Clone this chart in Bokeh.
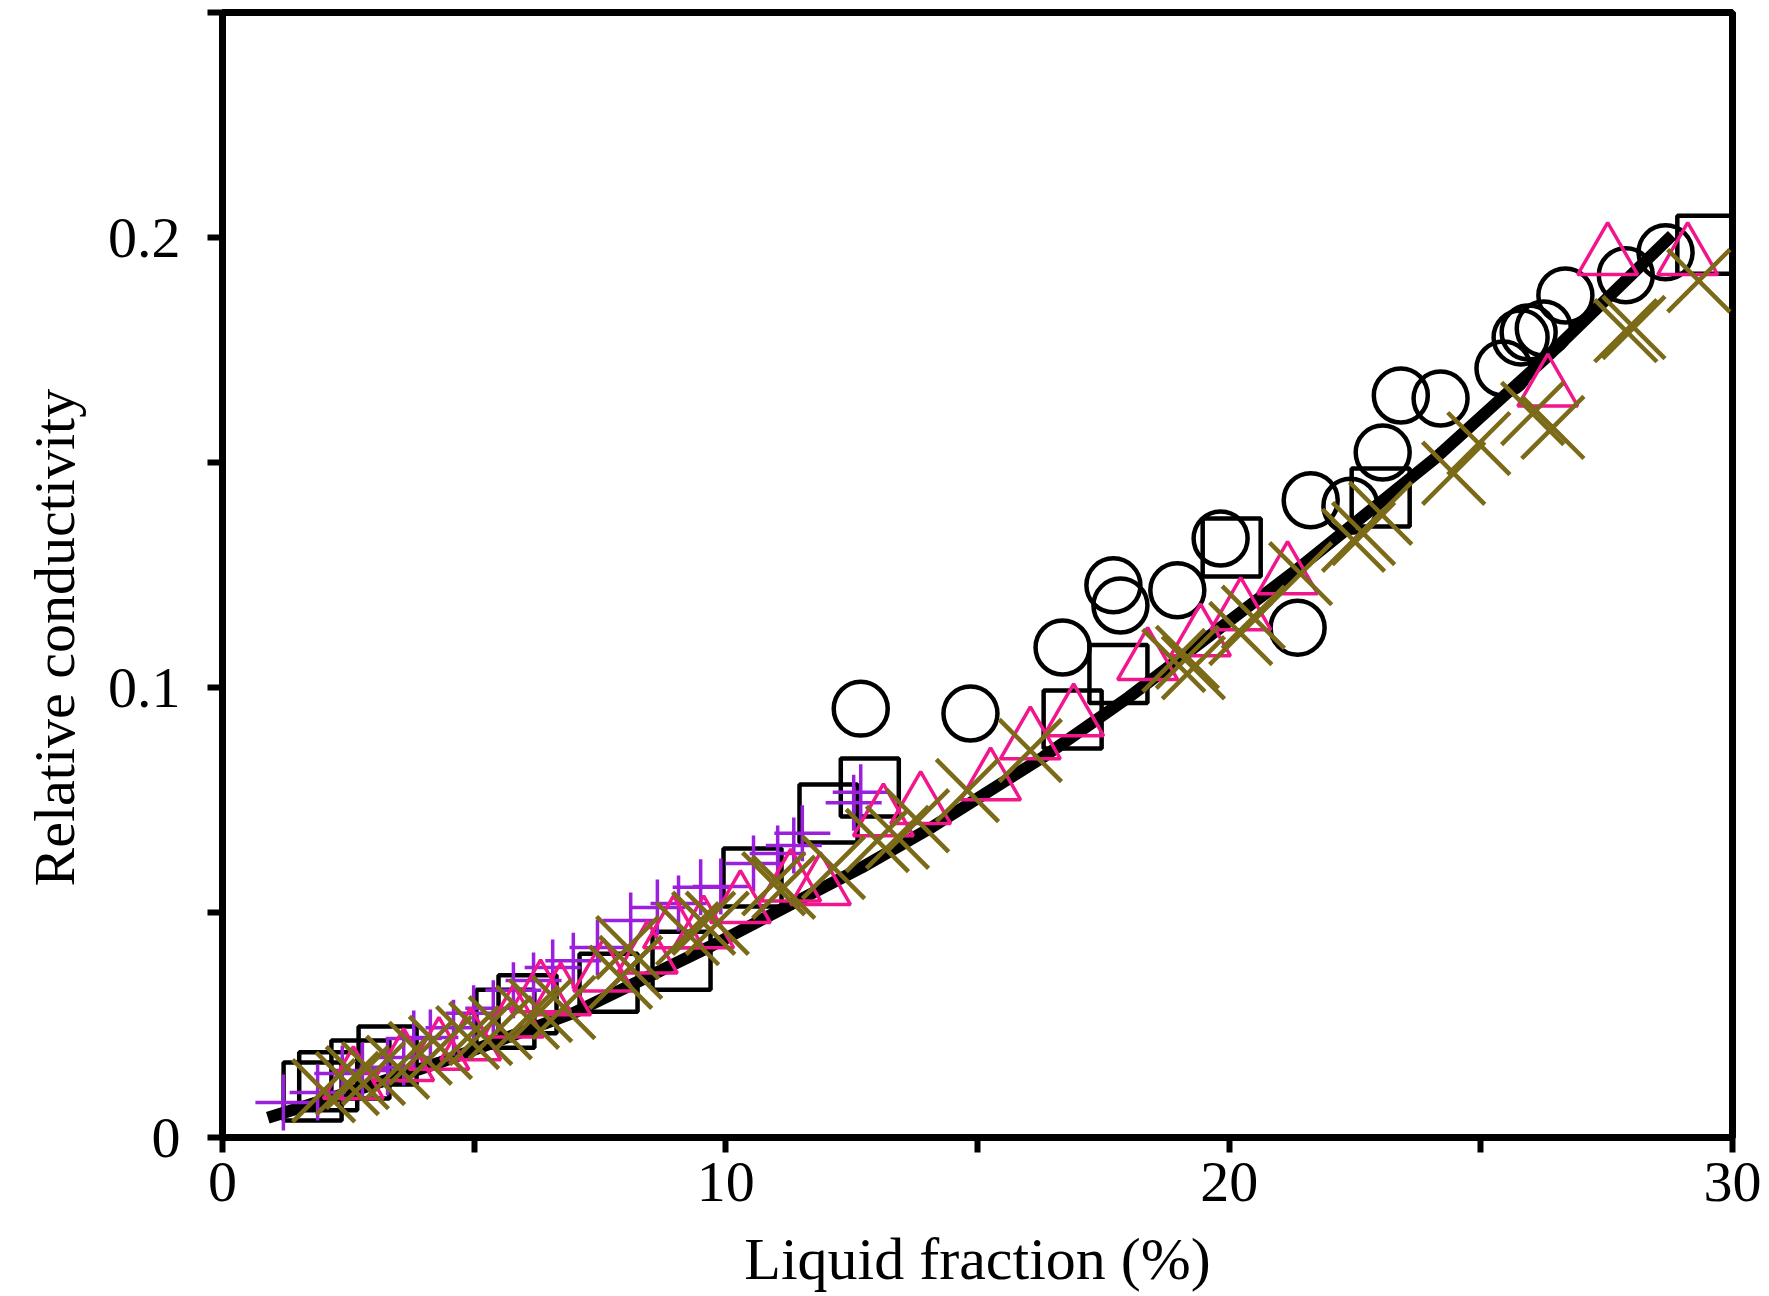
from bokeh.plotting import figure
from bokeh.models import Range1d, FixedTicker, Title
from bokeh.embed import file_html
from bokeh.resources import INLINE

# ---- data ----
circle_x = [12.68, 14.86, 16.69, 17.70, 17.84, 18.97, 19.83, 21.36, 21.62, 22.41,
            23.05, 23.41, 24.20, 25.45, 25.79, 25.95, 26.25, 26.68, 27.88, 28.67]
circle_y = [0.0953, 0.0942, 0.1089, 0.1227, 0.1182, 0.1216, 0.1331, 0.1133, 0.1416, 0.1404,
            0.1522, 0.1649, 0.1642, 0.1709, 0.1778, 0.1789, 0.1798, 0.1871, 0.1916, 0.1967]

square_x = [1.79, 2.10, 2.74, 3.28, 5.62, 6.06, 7.67, 9.12, 10.53, 12.04, 12.86,
            16.89, 17.80, 20.05, 23.01, 29.48]
square_y = [0.0102, 0.0125, 0.0151, 0.0182, 0.0264, 0.0296, 0.0344, 0.0393, 0.0578, 0.0720, 0.0778,
            0.0929, 0.1030, 0.1311, 0.1422, 0.1984]

plus_x = [1.21, 1.89, 2.38, 2.78, 3.28, 3.60, 3.80, 4.13, 4.59, 4.99, 5.38, 5.78, 6.18, 6.56,
          6.97, 7.45, 8.11, 8.64, 9.06, 9.50, 9.90, 10.55, 11.03, 11.35, 11.52, 12.54, 12.68]
plus_y = [0.0078, 0.0100, 0.0142, 0.0149, 0.0156, 0.0178, 0.0220, 0.0222, 0.0244, 0.0276, 0.0287,
          0.0327, 0.0349, 0.0378, 0.0393, 0.0422, 0.0482, 0.0511, 0.0520, 0.0556, 0.0558, 0.0609,
          0.0631, 0.0649, 0.0676, 0.0744, 0.0767]

tri_x = [2.60, 3.60, 4.30, 4.93, 5.78, 6.32, 6.72, 7.57, 8.44, 8.96, 9.56, 10.29, 11.29, 11.88,
         13.13, 13.87, 15.26, 16.05, 16.91, 18.38, 19.43, 20.23, 21.16, 26.33, 27.52, 29.11]
tri_y = [0.0125, 0.0165, 0.0190, 0.0211, 0.0262, 0.0318, 0.0311, 0.0364, 0.0404, 0.0460, 0.0460,
         0.0516, 0.0564, 0.0556, 0.0709, 0.0736, 0.0789, 0.0880, 0.0931, 0.1056, 0.1109, 0.1167,
         0.1247, 0.1664, 0.1956, 0.1956]

x_x = [2.01, 2.48, 2.68, 3.00, 3.48, 3.93, 4.33, 4.87, 5.13, 5.52, 6.06, 6.32, 6.78, 7.91, 8.05,
       8.11, 9.24, 9.56, 9.83, 10.95, 11.15, 12.14, 13.01, 13.41, 13.81, 14.80, 16.05, 18.90,
       19.17, 19.29, 20.23, 20.48, 21.42, 22.47, 22.67, 23.01, 24.46, 24.96, 26.03, 26.43, 27.88,
       28.04, 29.33]
x_y = [0.0104, 0.0120, 0.0133, 0.0142, 0.0156, 0.0187, 0.0200, 0.0222, 0.0231, 0.0244, 0.0267,
       0.0282, 0.0289, 0.0356, 0.0422, 0.0378, 0.0453, 0.0476, 0.0476, 0.0564, 0.0556, 0.0600,
       0.0660, 0.0667, 0.0704, 0.0771, 0.0860, 0.1060, 0.1067, 0.1044, 0.1120, 0.1156, 0.1253,
       0.1327, 0.1342, 0.1387, 0.1476, 0.1542, 0.1609, 0.1578, 0.1793, 0.1800, 0.1904]

fit_x = [0.9, 2.5, 4.3, 7.0, 9.7, 12.7, 14.1, 16.3, 18.0, 21.3, 24.1, 26.3, 28.8]
fit_y = [0.0044, 0.0100, 0.0166, 0.0278, 0.0425, 0.0600, 0.0690, 0.0845, 0.0978, 0.1258,
         0.1510, 0.1733, 0.2005]

x_ticks = [0, 5, 10, 15, 20, 25, 30]
x_tick_labels = {0: "0", 5: "", 10: "10", 15: "", 20: "20", 25: "", 30: "30"}
y_ticks = [0, 0.05, 0.1, 0.15, 0.2, 0.25]
y_tick_labels = {0: "0", 0.05: "", 0.1: "0.1", 0.15: "", 0.2: "0.2", 0.25: ""}

x_title = "Liquid fraction (%)"
y_title = "Relative conductivity"

FONT = "Liberation Serif"

p = figure(frame_width=1510, frame_height=1125, output_backend="svg", toolbar_location=None,
           x_range=Range1d(0, 30), y_range=Range1d(0, 0.25),
           min_border_left=222, min_border_right=37, min_border_top=12, min_border_bottom=120)
p.background_fill_color = "white"
p.border_fill_color = "white"
p.grid.visible = False
p.outline_line_color = "black"
p.outline_line_width = 7

for ax in (p.xaxis[0], p.yaxis[0]):
    ax.axis_line_width = 7
    ax.major_tick_line_width = 6
    ax.major_tick_out = 15
    ax.major_tick_in = 0
    ax.minor_tick_out = 0
    ax.minor_tick_in = 0
    ax.major_label_text_font = FONT
    ax.major_label_text_font_size = "58px"
    ax.major_label_text_color = "black"
    ax.axis_label_text_font = FONT
    ax.axis_label_text_font_size = "60px"
    ax.axis_label_text_font_style = "normal"
    ax.axis_label_text_color = "black"

p.xaxis.ticker = FixedTicker(ticks=x_ticks)
p.xaxis.major_label_overrides = x_tick_labels
p.xaxis.major_label_standoff = 10
p.xaxis.axis_label = x_title
p.xaxis.axis_label_standoff = 22

p.yaxis.ticker = FixedTicker(ticks=y_ticks)
p.yaxis.major_label_overrides = y_tick_labels
p.yaxis.major_label_standoff = 27

# y title placed as a side title so it can sit a little below the frame centre
p.add_layout(Title(text=y_title, align="left", offset=251, standoff=36,
                   vertical_align="bottom", text_font=FONT, text_font_size="58px",
                   text_font_style="normal", text_color="black"), "left")

# markers
p.scatter(square_x, square_y, marker="square", size=58, fill_color=None,
          line_color="black", line_width=4.5)
p.scatter(circle_x, circle_y, marker="circle", size=54, fill_color=None,
          line_color="black", line_width=4.5)
p.line(fit_x, fit_y, line_color="black", line_width=12)
p.scatter(plus_x, plus_y, marker="cross", size=56, line_color="#9b20de", line_width=3.5)
p.scatter(tri_x, tri_y, marker="triangle", size=60, fill_color=None,
          line_color="#f2168c", line_width=3.5)
p.scatter(x_x, x_y, marker="x", size=88, line_color="#7b6a18", line_width=4.5)

open("out.html", "w").write(file_html(p, INLINE))
